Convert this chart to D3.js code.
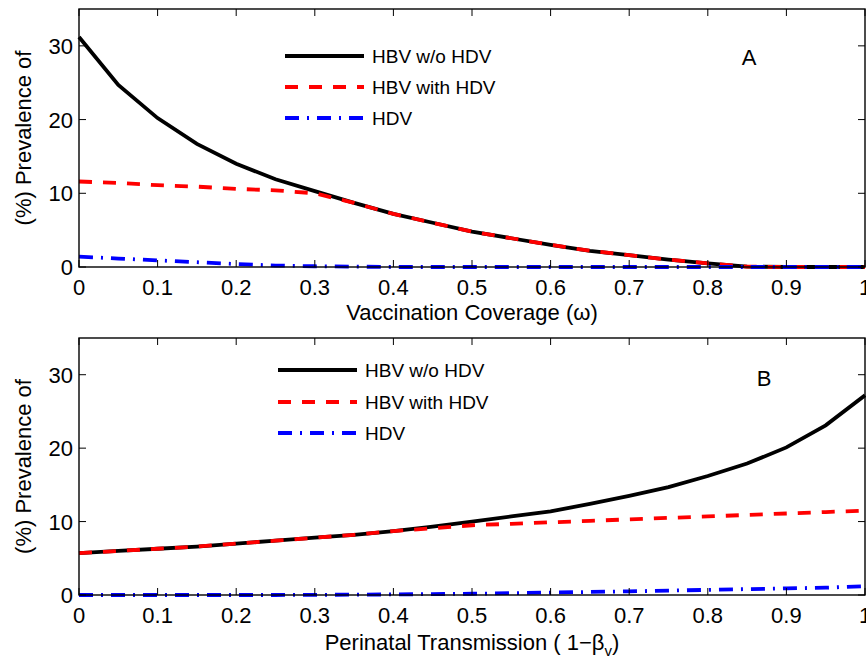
<!DOCTYPE html>
<html>
<head>
<meta charset="utf-8">
<script src="https://cdn.jsdelivr.net/npm/d3@7"></script>
<style>
  body { margin: 0; background: #fff; }
  text { font-family: 'Liberation Sans', Arial, sans-serif; fill: #000; }
</style>
</head>
<body>
<svg id="container"></svg>
<script>
const xs = [0, 0.05, 0.1, 0.15, 0.2, 0.25, 0.3, 0.35, 0.4, 0.45, 0.5, 0.55, 0.6, 0.65, 0.7, 0.75, 0.8, 0.85, 0.9, 0.95, 1];

// panel A: vaccination coverage
const hbvNoHdvA = [31.2, 24.7, 20.2, 16.7, 14.0, 11.9, 10.3, 8.7, 7.2, 6.0, 4.8, 3.9, 3.0, 2.2, 1.6, 1.0, 0.5, 0.05, 0, 0, 0];
const hbvHdvA = [11.6, 11.4, 11.1, 10.9, 10.6, 10.4, 10.0, 8.7, 7.2, 6.0, 4.8, 3.9, 3.0, 2.2, 1.6, 1.0, 0.5, 0.05, 0, 0, 0];
const hdvA = [1.4, 1.15, 0.9, 0.65, 0.4, 0.2, 0.1, 0.05, 0, 0, 0, 0, 0, 0, 0, 0, 0, 0, 0, 0, 0];

// panel B: perinatal transmission
const hbvNoHdvB = [5.7, 6.0, 6.3, 6.6, 7.0, 7.4, 7.8, 8.2, 8.7, 9.3, 10.0, 10.7, 11.4, 12.4, 13.5, 14.7, 16.2, 17.9, 20.1, 23.1, 27.2];
const hbvHdvB = [5.7, 6.0, 6.3, 6.6, 7.0, 7.4, 7.8, 8.2, 8.7, 9.1, 9.5, 9.7, 9.9, 10.1, 10.3, 10.5, 10.7, 10.9, 11.1, 11.3, 11.5];
const hdvB = [0, 0, 0, 0, 0, 0, 0.02, 0.05, 0.08, 0.12, 0.17, 0.25, 0.33, 0.42, 0.5, 0.6, 0.7, 0.8, 0.9, 1.0, 1.2];

const xTicks = [0, 0.1, 0.2, 0.3, 0.4, 0.5, 0.6, 0.7, 0.8, 0.9, 1];
const yTicks = [0, 10, 20, 30];
const legendNames = ['HBV w/o HDV', 'HBV with HDV', 'HDV'];

const styles = [
  { color: '#000', dash: null },
  { color: '#ff0000', dash: '13,11' },
  { color: '#0000ff', dash: '14,8,2,8' },
];

const W = 866, H = 664;
const svg = d3.select('#container').attr('width', W).attr('height', H);

const x = d3.scaleLinear().domain([0, 1]).range([79, 865]);

function panel(opts) {
  const y = d3.scaleLinear().domain([0, 35]).range([opts.bottom, opts.top]);
  const g = svg.append('g');

  const line = d3.line().x((d, i) => x(xs[i])).y((d) => y(d));
  opts.series.forEach((s, k) => {
    g.append('path')
      .attr('d', line(s))
      .attr('fill', 'none')
      .attr('stroke', styles[k].color)
      .attr('stroke-width', 3.8)
      .attr('stroke-dasharray', styles[k].dash);
  });

  // frame
  g.append('rect')
    .attr('x', x(0)).attr('y', opts.top)
    .attr('width', x(1) - x(0)).attr('height', opts.bottom - opts.top)
    .attr('fill', 'none').attr('stroke', '#000').attr('stroke-width', 1.4);

  // ticks inward, both sides
  xTicks.forEach((t) => {
    g.append('line').attr('x1', x(t)).attr('x2', x(t))
      .attr('y1', opts.bottom).attr('y2', opts.bottom - 7).attr('stroke', '#000');
    g.append('line').attr('x1', x(t)).attr('x2', x(t))
      .attr('y1', opts.top).attr('y2', opts.top + 7).attr('stroke', '#000');
    g.append('text').attr('x', x(t)).attr('y', opts.bottom + 28)
      .attr('text-anchor', 'middle').style('font-size', '22px').text(t);
  });
  yTicks.forEach((t) => {
    g.append('line').attr('x1', x(0)).attr('x2', x(0) + 7)
      .attr('y1', y(t)).attr('y2', y(t)).attr('stroke', '#000');
    g.append('line').attr('x1', x(1)).attr('x2', x(1) - 7)
      .attr('y1', y(t)).attr('y2', y(t)).attr('stroke', '#000');
    g.append('text').attr('x', x(0) - 6).attr('y', y(t) + 8)
      .attr('text-anchor', 'end').style('font-size', '22px').text(t);
  });

  // y label
  g.append('text')
    .attr('transform', `translate(31,${(opts.top + opts.bottom) / 2}) rotate(-90)`)
    .attr('text-anchor', 'middle').style('font-size', '22px')
    .text('(%) Prevalence of');

  // legend
  legendNames.forEach((name, k) => {
    const ly = opts.legY[k];
    g.append('line')
      .attr('x1', opts.legX).attr('x2', opts.legX + 79)
      .attr('y1', ly).attr('y2', ly)
      .attr('stroke', styles[k].color).attr('stroke-width', 3.8)
      .attr('stroke-dasharray', styles[k].dash);
    g.append('text').attr('x', opts.legX + 87).attr('y', ly + 7)
      .style('font-size', '19px').text(name);
  });

  g.append('text').attr('x', opts.tag[0]).attr('y', opts.tag[1])
    .attr('text-anchor', 'middle').style('font-size', '22px').text(opts.tagText);

  return g;
}

panel({
  top: 9, bottom: 267,
  series: [hbvNoHdvA, hbvHdvA, hdvA],
  legX: 285, legY: [56, 87, 118],
  tag: [749, 65], tagText: 'A',
});
svg.append('text').attr('x', 472).attr('y', 320)
  .attr('text-anchor', 'middle').style('font-size', '22px')
  .text('Vaccination Coverage (ω)');

panel({
  top: 338, bottom: 595,
  series: [hbvNoHdvB, hbvHdvB, hdvB],
  legX: 278, legY: [370, 402, 433],
  tag: [764, 386], tagText: 'B',
});
const bl = svg.append('text').attr('x', 472).attr('y', 650)
  .attr('text-anchor', 'middle').style('font-size', '22px');
bl.append('tspan').text('Perinatal Transmission ( 1−β');
bl.append('tspan').attr('dy', 6).style('font-size', '15px').text('v');
bl.append('tspan').attr('dy', -6).text(')');
</script>
</body>
</html>
